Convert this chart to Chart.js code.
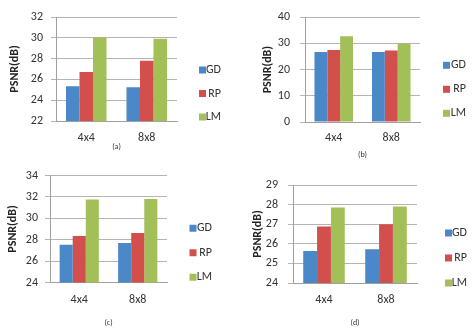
<!DOCTYPE html>
<html><head><meta charset="utf-8">
<script src="https://cdn.jsdelivr.net/npm/chart.js@4/dist/chart.umd.min.js"></script>
<style>
html,body{margin:0;padding:0;background:#fff;overflow:hidden;width:475px;height:328px;}
canvas{position:absolute;}
</style></head><body>
<canvas id="pa"></canvas><canvas id="pb"></canvas><canvas id="pc"></canvas><canvas id="pd"></canvas>
<script>
// ---- data ----
const categories = ['4x4', '8x8'];
const seriesNames = ['GD', 'RP', 'LM'];
const yTitle = 'PSNR(dB)';
const panelLabels = ['(a)', '(b)', '(c)', '(d)'];

const aGD = [25.35, 25.25];
const aRP = [26.7, 27.8];
const aLM = [30.05, 29.9];
const aTicks = [22, 24, 26, 28, 30, 32];

const bGD = [26.7, 26.7];
const bRP = [27.5, 27.3];
const bLM = [32.7, 30.0];
const bTicks = [0, 10, 20, 30, 40];

const cGD = [27.53, 27.68];
const cRP = [28.35, 28.63];
const cLM = [31.75, 31.8];
const cTicks = [24, 26, 28, 30, 32, 34];

const dGD = [25.63, 25.72];
const dRP = [26.88, 27.0];
const dLM = [27.85, 27.9];
const dTicks = [24, 25, 26, 27, 28, 29];

// ---- styles ----
const colors = ['#4A88C8', '#D24F4C', '#A3BF57'];
const gridColor = '#B4B4B4';
const axisColor = '#A0A0A0';
const textColor = '#333333';
const FONT = "Carlito, Lato, 'Liberation Sans', sans-serif";
Chart.defaults.font.family = FONT;

function panel(id, label, series, ticks, L) {
  const c = document.getElementById(id);
  c.width = L.W; c.height = L.H;
  c.style.left = L.cx + 'px'; c.style.top = L.cy + 'px';
  c.style.width = L.W + 'px'; c.style.height = L.H + 'px';
  const padTop = L.plotTop - L.cy;
  const yW = L.plotLeft - L.cx;
  const xH = L.cy + L.H - L.plotBottom;
  const legendLeft = L.boxX - L.lp;
  const y2W = legendLeft - L.plotRight;
  const LW = L.textRight - legendLeft;
  const padRight = L.cx + L.W - L.textRight;
  const T = (L.firstY - 6) - L.plotTop - L.lp;
  const step = ticks[1] - ticks[0];
  new Chart(c, {
    type: 'bar',
    data: {
      labels: categories,
      datasets: seriesNames.map((n, i) => ({
        label: n, data: series[i], backgroundColor: colors[i], borderWidth: 0,
        categoryPercentage: 0.67, barPercentage: 1.0
      }))
    },
    options: {
      responsive: false, animation: false, devicePixelRatio: 1,
      layout: { padding: { top: padTop, left: 0, right: padRight, bottom: 0 } },
      plugins: {
        tooltip: { enabled: false },
        legend: {
          position: 'right', align: 'start', maxWidth: LW,
          title: { display: true, text: ' ', font: { size: 10, lineHeight: 1 }, padding: { top: T - 10, bottom: 0 } },
          labels: {
            boxWidth: 7, boxHeight: 7, padding: L.lp, textAlign: 'right',
            color: textColor, font: { size: 12, family: FONT }
          }
        }
      },
      scales: {
        x: {
          grid: { display: false, drawTicks: false },
          border: { display: true, color: axisColor, width: 1 },
          ticks: { color: textColor, font: { size: 12 }, padding: L.xtp },
          title: { display: true, text: label, color: textColor, font: { size: 8 }, padding: { top: 0, bottom: L.xtb } },
          afterFit: s => { s.height = xH; }
        },
        y: {
          min: ticks[0], max: ticks[ticks.length - 1],
          grid: { color: gridColor, tickColor: gridColor, tickLength: 5, drawTicks: true },
          border: { display: true, color: axisColor, width: 1 },
          ticks: { stepSize: step, color: textColor, font: { size: 12 }, padding: L.ytp },
          title: { display: true, text: yTitle, color: '#222', font: { size: 12, weight: 'bold' }, padding: { top: L.ytt, bottom: 0 } },
          afterFit: s => { s.width = yW; }
        },
        y2: {
          type: 'linear', position: 'right', display: true,
          grid: { display: false, drawTicks: false }, border: { display: false },
          ticks: { display: false },
          afterFit: s => { s.width = y2W; }
        }
      }
    }
  });
}

panel('pa', panelLabels[0], [aGD, aRP, aLM], aTicks,
  { cx: 0, cy: 0, W: 237, H: 165, plotLeft: 56, plotRight: 177, plotTop: 17, plotBottom: 121,
    boxX: 199, textRight: 221, lp: 11.5, firstY: 70, xtp: 10, xtb: 13.2, ytp: 8, ytt: 7.8 });
panel('pb', panelLabels[1], [bGD, bRP, bLM], bTicks,
  { cx: 237, cy: 0, W: 238, H: 165, plotLeft: 305, plotRight: 420, plotTop: 8, plotBottom: 122,
    boxX: 443, textRight: 466, lp: 12, firstY: 65.3, xtp: 8.8, xtb: 5.2, ytp: 10, ytt: 23.8 });
panel('pc', panelLabels[2], [cGD, cRP, cLM], cTicks,
  { cx: 0, cy: 160, W: 237, H: 168, plotLeft: 50, plotRight: 167, plotTop: 175.5, plotBottom: 282.5,
    boxX: 189.5, textRight: 212, lp: 12.5, firstY: 228.3, xtp: 10.3, xtb: 0.2, ytp: 7, ytt: 5.8 });
panel('pd', panelLabels[3], [dGD, dRP, dLM], dTicks,
  { cx: 237, cy: 160, W: 238, H: 168, plotLeft: 293, plotRight: 417, plotTop: 185, plotBottom: 283,
    boxX: 445, textRight: 467, lp: 13, firstY: 233, xtp: 9.8, xtb: 0.2, ytp: 10, ytt: 13.8 });
</script>
</body></html>
